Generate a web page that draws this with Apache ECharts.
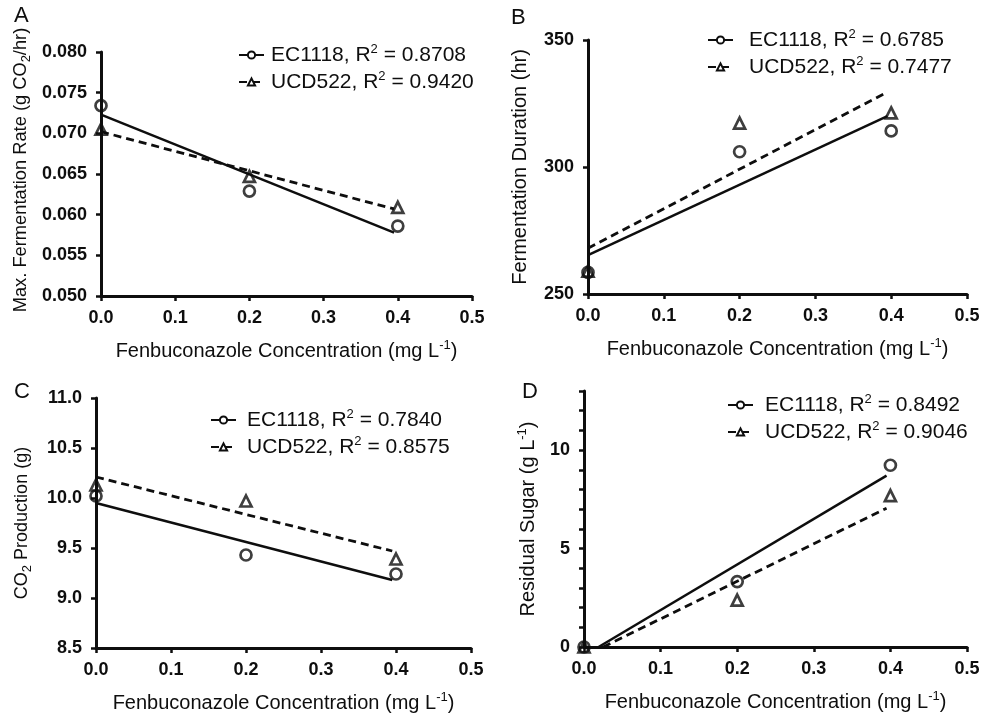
<!DOCTYPE html>
<html>
<head>
<meta charset="utf-8">
<title>Fenbuconazole</title>
<script src="https://cdn.jsdelivr.net/npm/echarts@6/dist/echarts.min.js"></script>
<style>
  html, body { margin: 0; padding: 0; background: #fff; }
  #chart { width: 984px; height: 718px; }
</style>
</head>
<body>
<div id="chart"></div>
<script>
// concentrations (mg/L)
var conc = [0, 0.2, 0.4];

// A - max fermentation rate
var rateEC = [0.0734, 0.0629, 0.0586];
var rateUCD = [0.0705, 0.0647, 0.0609];
var rateFitEC = [[0, 0.0723], [0.395, 0.0578]];
var rateFitUCD = [[0, 0.0702], [0.395, 0.0607]];

// B - fermentation duration
var durEC = [258.5, 306, 314.2];
var durUCD = [259, 317.3, 321.3];
var durFitEC = [[0, 265.3], [0.395, 320]];
var durFitUCD = [[0, 268], [0.395, 329.5]];

// C - CO2 production
var co2EC = [10.02, 9.43, 9.24];
var co2UCD = [10.13, 9.97, 9.39];
var co2FitEC = [[0, 9.95], [0.395, 9.18]];
var co2FitUCD = [[0, 10.21], [0.395, 9.47]];

// D - residual sugar
var sugarEC = [0, 3.32, 9.23];
var sugarUCD = [0, 2.38, 7.69];
var sugarFitEC = [[0.019, 0], [0.395, 8.7]];
var sugarFitUCD = [[0.025, 0], [0.395, 7.05]];

var legendNames = [
    ['EC1118, R2 = 0.8708', 'UCD522, R2 = 0.9420'],
    ['EC1118, R2 = 0.6785', 'UCD522, R2 = 0.7477'],
    ['EC1118, R2 = 0.7840', 'UCD522, R2 = 0.8575'],
    ['EC1118, R2 = 0.8492', 'UCD522, R2 = 0.9046']
];

var FONT = '"Liberation Sans", Arial, sans-serif';
var INK = '#0e0e0e';

var myChart = echarts.init(document.getElementById('chart'));

function pairs(ys) {
    return conc.map(function(x, i) { return [x, ys[i]]; });
}

var richText = {
    sup: { fontSize: 13, verticalAlign: 'top', lineHeight: 12, fontFamily: FONT, color: INK },
    sub: { fontSize: 13, verticalAlign: 'bottom', lineHeight: 10, fontFamily: FONT, color: INK }
};

function xAxisFor(idx) {
    return {
        type: 'value', gridIndex: idx, min: 0, max: 0.5, interval: 0.1,
        name: 'Fenbuconazole Concentration (mg L{sup|-1})',
        nameLocation: 'middle', nameGap: 43,
        nameTextStyle: { fontSize: 20, fontFamily: FONT, color: INK, lineHeight: 24, rich: richText },
        axisLine: { lineStyle: { color: INK, width: 3 } },
        axisTick: { length: 5, lineStyle: { color: INK, width: 2.5 } },
        axisLabel: { margin: 13, fontSize: 18, fontWeight: 'bold', fontFamily: FONT, color: INK,
            formatter: function(v) { return v.toFixed(1); } },
        splitLine: { show: false }
    };
}

function yAxisFor(idx, min, max, interval, name, gap, size, shift, fmt) {
    return {
        type: 'value', gridIndex: idx, min: min, max: max, interval: interval,
        name: name, nameLocation: 'middle', nameGap: gap,
        nameTextStyle: { fontSize: size, fontFamily: FONT, color: INK, lineHeight: 24,
            padding: [0, 0, 0, shift], rich: richText },
        axisLine: { onZero: false, lineStyle: { color: INK, width: 3 } },
        axisTick: { length: 5, lineStyle: { color: INK, width: 2.5 } },
        axisLabel: { margin: 14, fontSize: 18, fontWeight: 'bold', fontFamily: FONT, color: INK, formatter: fmt },
        splitLine: { show: false }
    };
}

function panelSeries(idx, names, ec, ucd, fitEC, fitUCD) {
    return [
        {
            name: names[0], type: 'line', xAxisIndex: idx, yAxisIndex: idx,
            data: fitEC, symbol: 'circle', showSymbol: false, silent: true,
            lineStyle: { color: INK, width: 2.5 }, itemStyle: { color: '#fff', borderColor: INK, borderWidth: 2.2 }
        },
        {
            name: names[1], type: 'line', xAxisIndex: idx, yAxisIndex: idx,
            data: fitUCD, symbol: 'triangle', showSymbol: false, silent: true,
            lineStyle: { color: INK, width: 2.8, type: [8, 5] }, itemStyle: { color: '#fff', borderColor: INK, borderWidth: 2.2 }
        },
        {
            name: names[0], type: 'scatter', xAxisIndex: idx, yAxisIndex: idx, clip: false,
            data: pairs(ec), symbol: 'circle', symbolSize: 11, z: 3,
            itemStyle: { color: 'rgba(0,0,0,0)', borderColor: INK, borderWidth: 2.7 }
        },
        {
            name: names[1], type: 'scatter', xAxisIndex: idx, yAxisIndex: idx, clip: false,
            data: pairs(ucd), symbol: 'triangle', symbolSize: 11, z: 3,
            itemStyle: { color: 'rgba(0,0,0,0)', borderColor: INK, borderWidth: 2.7 }
        }
    ];
}

function legendFor(idx, left, top, textPad) {
    return {
        data: legendNames[idx], orient: 'vertical', left: left, top: top,
        itemWidth: 25, itemHeight: 9, itemGap: 3, padding: 0, selectedMode: false,
        formatter: function(n) { return n.replace('R2', 'R{sup|2}'); },
        textStyle: { fontSize: 21, fontFamily: FONT, color: INK, lineHeight: 24, padding: [0, 0, 0, textPad], rich: richText }
    };
}

function letter(t, left, top) {
    return { text: t, left: left, top: top, padding: 0,
        textStyle: { fontSize: 22, fontWeight: 'normal', fontFamily: FONT, color: INK } };
}

var option = {
    backgroundColor: '#fff',
    animation: false,
    title: [letter('A', 14, 5), letter('B', 511, 7), letter('C', 14, 381), letter('D', 522, 381)],
    legend: [legendFor(0, 238, 43, 2), legendFor(1, 707, 28, 11), legendFor(2, 210, 408, 6), legendFor(3, 727, 393, 7)],
    grid: [
        { left: 101, top: 52, width: 371, height: 244 },
        { left: 588, top: 40, width: 379, height: 254 },
        { left: 96, top: 398, width: 375, height: 250 },
        { left: 584, top: 391, width: 383, height: 256 }
    ],
    xAxis: [xAxisFor(0), xAxisFor(1), xAxisFor(2), xAxisFor(3)],
    yAxis: [
        yAxisFor(0, 0.05, 0.08, 0.005, 'Max. Fermentation Rate (g CO{sub|2}/hr)', 68, 18.3, 8,
            function(v) { return v.toFixed(3); }),
        yAxisFor(1, 250, 350, 50, 'Fermentation Duration (hr)', 56, 20, 0,
            function(v) { return String(v); }),
        yAxisFor(2, 8.5, 11, 0.5, 'CO{sub|2} Production (g)', 62, 18, 0,
            function(v) { return v.toFixed(1); }),
        yAxisFor(3, 0, 13, 1, 'Residual Sugar (g L{sup|-1})', 44, 20, 0,
            function(v) { return v % 5 === 0 ? String(v) : ''; })
    ],
    series: [].concat(
        panelSeries(0, legendNames[0], rateEC, rateUCD, rateFitEC, rateFitUCD),
        panelSeries(1, legendNames[1], durEC, durUCD, durFitEC, durFitUCD),
        panelSeries(2, legendNames[2], co2EC, co2UCD, co2FitEC, co2FitUCD),
        panelSeries(3, legendNames[3], sugarEC, sugarUCD, sugarFitEC, sugarFitUCD)
    )
};

myChart.setOption(option);
</script>
</body>
</html>
